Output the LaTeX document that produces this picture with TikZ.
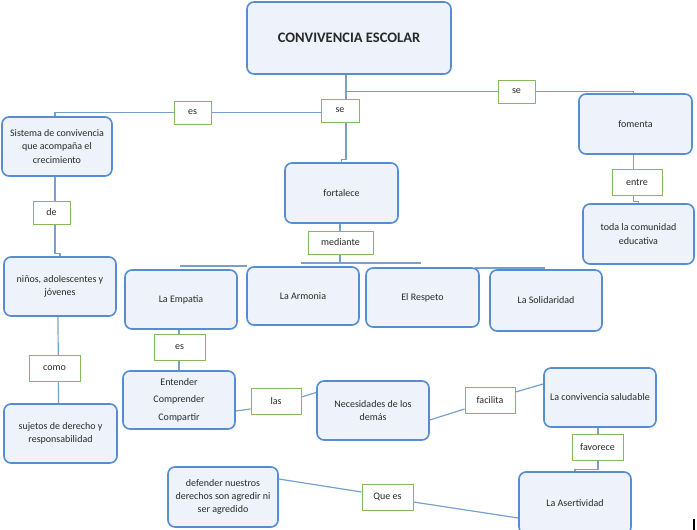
\documentclass[tikz,border=0pt]{standalone}
\usepackage{fontspec}
\setmainfont{Carlito}
\usetikzlibrary{backgrounds}
\definecolor{boxblue}{RGB}{86,140,208}
\definecolor{boxfill}{RGB}{238,243,251}
\definecolor{labgreen}{RGB}{132,186,92}
\definecolor{connblue}{RGB}{120,160,205}
\definecolor{txt}{RGB}{40,40,40}
\newcommand\boxfont{\fontsize{10}{13.2}\selectfont}
\begin{document}
\begin{tikzpicture}[x=1pt,y=-1pt,
  cbox/.style={draw=boxblue, fill=boxfill, line width=1.6pt, rounded corners=7pt, align=center, font=\boxfont, text=txt, inner sep=1pt},
  lab/.style={draw=labgreen, fill=white, line width=1pt, align=center, font=\boxfont, text=txt, inner sep=1pt},
  conn/.style={draw=connblue, line width=1.2pt}]
\useasboundingbox (0,0) rectangle (697,530);

% concept boxes
\node[cbox, minimum width=204pt, minimum height=72pt, font=\fontsize{14.5}{17}\selectfont\bfseries] (conv) at (349,38) {CONVIVENCIA ESCOLAR};
\node[cbox, minimum width=110pt, minimum height=59pt] (sis) at (57,146.5) {Sistema de convivencia\\que acompaña el\\crecimiento};
\node[cbox, minimum width=113pt, minimum height=60pt] (fom) at (635.5,124) {fomenta};
\node[cbox, minimum width=113pt, minimum height=60pt] (fort) at (341.5,193) {fortalece};
\node[cbox, minimum width=111pt, minimum height=60pt] (toda) at (638.5,234) {toda la comunidad\\educativa};
\node[cbox, minimum width=112pt, minimum height=59pt] (nin) at (60,286.5) {niños, adolescentes y\\jóvenes};
\node[cbox, minimum width=112pt, minimum height=59pt] (emp) at (181,299.5) {La Empatia};
\node[cbox, minimum width=112pt, minimum height=58pt] (arm) at (303,296) {La Armonia};
\node[cbox, minimum width=113pt, minimum height=59pt] (res) at (422.5,297.5) {El Respeto};
\node[cbox, minimum width=112pt, minimum height=61pt] (sol) at (546,300.5) {La Solidaridad};
\node[cbox, minimum width=113pt, minimum height=59pt] (suj) at (60.5,433.5) {sujetos de derecho y\\responsabilidad};
\node[cbox, minimum width=112pt, minimum height=58pt] (ent) at (179,400) {Entender\\[4.3pt]Comprender\\[4.3pt]Compartir};
\node[cbox, minimum width=112pt, minimum height=59pt] (nec) at (373,410.5) {Necesidades de los\\demás};
\node[cbox, minimum width=112pt, minimum height=59pt] (cs) at (600,397.5) {La convivencia saludable};
\node[cbox, minimum width=112pt, minimum height=62pt] (ase) at (575,503) {La Asertividad};
\node[cbox, minimum width=110pt, minimum height=60pt] (def) at (223,497) {defender nuestros\\derechos son agredir ni\\ser agredido};

% linking labels
\node[lab, minimum width=37pt, minimum height=23pt] (lEs1) at (192.5,112.5) {es};
\node[lab, minimum width=38pt, minimum height=23pt] (lSe1) at (340,110.5) {se};
\node[lab, minimum width=37pt, minimum height=23pt] (lSe2) at (516.5,91.5) {se};
\node[lab, minimum width=37pt, minimum height=23pt] (lDe) at (51.5,212.5) {de};
\node[lab, minimum width=50pt, minimum height=26pt] (lEntre) at (637,182) {entre};
\node[lab, minimum width=65pt, minimum height=23pt] (lMed) at (340.5,242.5) {mediante};
\node[lab, minimum width=51pt, minimum height=26pt] (lComo) at (54.5,368) {como};
\node[lab, minimum width=51pt, minimum height=26pt] (lEs2) at (179.5,347) {es};
\node[lab, minimum width=50pt, minimum height=26pt] (lLas) at (276,401) {las};
\node[lab, minimum width=50pt, minimum height=26pt] (lFac) at (490,400) {facilita};
\node[lab, minimum width=51pt, minimum height=26pt] (lFav) at (597.5,447) {favorece};
\node[lab, minimum width=51pt, minimum height=26pt] (lQue) at (387.5,497) {Que es};

\coordinate (j1) at (180,266);
\coordinate (j2) at (247,266);
\coordinate (j3) at (301,263);
\coordinate (j4) at (421,263);
\coordinate (j5) at (475,268);
\coordinate (j6) at (545,268);

\begin{pgfonlayer}{background}
\fill[white] (0,0) rectangle (697,530);
\draw[conn] ([xshift=-3pt]conv.south) |- (lSe2) -| ([xshift=-2pt]fom.north);
\draw[conn] ([xshift=-3pt]conv.south) -- ++(0,85) -| (fort.north);
\draw[conn] (lSe1.west |- lEs1) -- (lEs1) -| ([xshift=-2pt]sis.north);
\draw[conn] ([xshift=-2pt]sis.south) -- ++(0,77) -| (nin.north);
\draw[conn] ([xshift=-2pt]nin.south) -- ([xshift=-2pt]suj.north);
\draw[conn] ([xshift=-1.5pt]fort.south) -- ([xshift=-1.5pt]fort.south |- j3);
\draw[conn] (j1) -- (j2);
\draw[conn] (j3) -- (j4);
\draw[conn] (j5) -- (j6);
\draw[conn] ([xshift=-2pt]emp.south) -- ++(0,39) -| (ent.north);
\draw[conn] ([yshift=-11pt]ent.east) -- ([yshift=-8pt]lLas.west);
\draw[conn] ([yshift=4pt]lLas.east) -- ([yshift=18pt]nec.west);
\draw[conn] ([yshift=-9.5pt]nec.east) -- ([yshift=-9pt]lFac.west);
\draw[conn] ([yshift=8pt]lFac.east) -- ([yshift=13.5pt]cs.west);
\draw[conn] ([xshift=-2pt]cs.south) -- ++(0,42) -| (ase.north);
\draw[conn] ([yshift=-15pt]ase.west) -- ([yshift=-5pt]lQue.east);
\draw[conn] ([yshift=5pt]lQue.west) -- ([yshift=18pt]def.east);
\draw[conn] ([xshift=-2pt]fom.south) -- ++(0,47) -| (toda.north);
\end{pgfonlayer}

\draw[black, line width=1.5pt] (694,519) -- (694,530);
\end{tikzpicture}
\end{document}
